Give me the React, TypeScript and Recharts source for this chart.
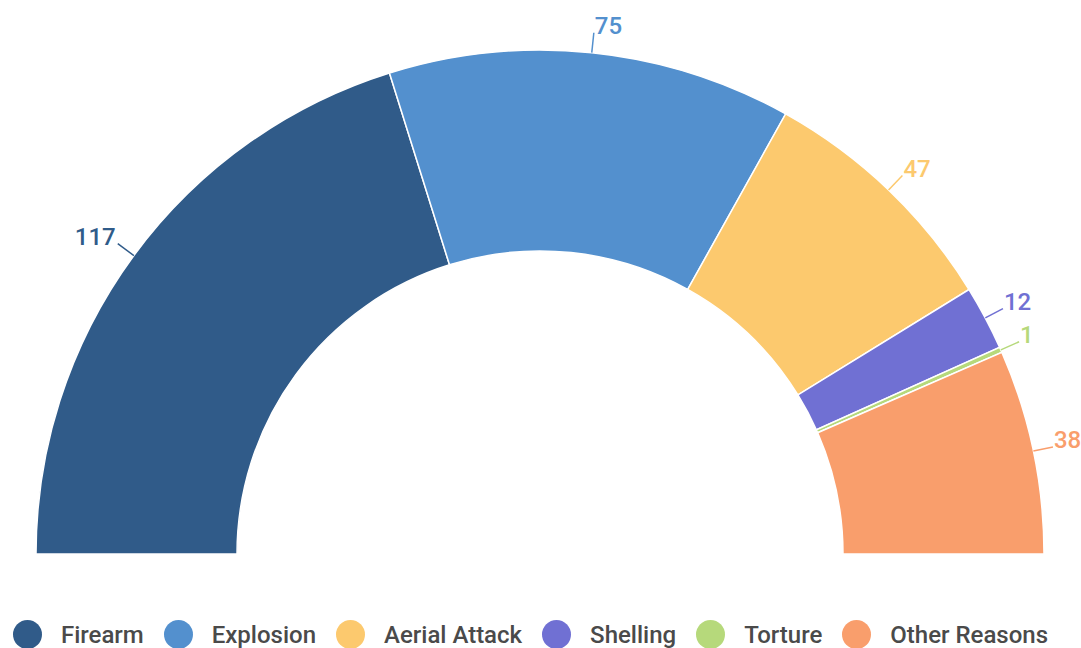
import { Cell, Legend, Pie, PieChart } from "recharts";

const categories = ["Firearm", "Explosion", "Aerial Attack", "Shelling", "Torture", "Other Reasons"];
const counts = [117, 75, 47, 12, 1, 38];
const colors = ["#305B89", "#5390CE", "#FCC96E", "#7070D3", "#B6D97B", "#F99E6C"];

const data = categories.map((name, i) => ({ name, value: counts[i] }));

const RADIAN = Math.PI / 180;

const renderLabel = (props: any) => {
    const { cx, cy, midAngle, outerRadius, value, index } = props;
    const color = colors[index];
    const cos = Math.cos(-midAngle * RADIAN);
    const sin = Math.sin(-midAngle * RADIAN);
    const x1 = cx + outerRadius * cos;
    const y1 = cy + outerRadius * sin;
    const x2 = cx + (outerRadius + 20) * cos;
    const y2 = cy + (outerRadius + 20) * sin;
    const anchor = cos >= 0 ? "start" : "end";
    return (
        <g>
            <path d={`M${x1},${y1}L${x2},${y2}`} stroke={color} strokeWidth={1.5} fill="none" />
            <text
                x={x2 + (cos >= 0 ? 1 : -2)}
                y={y2 + 1}
                textAnchor={anchor}
                fill={color}
                fontSize={24}
                fontWeight={500}
                fontFamily="Roboto"
            >
                {value}
            </text>
        </g>
    );
};

const renderLegend = () => (
    <div style={{ display: "flex", justifyContent: "center", alignItems: "center", fontFamily: "Roboto", paddingRight: 20 }}>
        {categories.map((name, i) => (
            <div key={name} style={{ display: "flex", alignItems: "center", marginRight: i < categories.length - 1 ? 20 : 0 }}>
                <span
                    style={{
                        width: 29,
                        height: 29,
                        borderRadius: "50%",
                        background: colors[i],
                        display: "inline-block",
                        marginRight: 19,
                    }}
                />
                <span style={{ fontSize: 24, fontWeight: 500, color: "#4a4a4a" }}>{name}</span>
            </div>
        ))}
    </div>
);

const App: React.FC = () => {
    return (
        <div style={{ position: "absolute", left: 0, top: 0 }}>
            <PieChart width={1081} height={648} margin={{ top: 0, right: 0, bottom: 0, left: 0 }}>
                <Pie
                    data={data}
                    dataKey="value"
                    nameKey="name"
                    cx={540}
                    cy={554}
                    startAngle={180}
                    endAngle={0}
                    innerRadius={303}
                    outerRadius={504}
                    stroke="#ffffff"
                    strokeWidth={1.5}
                    label={renderLabel}
                    labelLine={false}
                    isAnimationActive={false}
                >
                    {data.map((d, i) => (
                        <Cell key={d.name} fill={colors[i]} />
                    ))}
                </Pie>
                <Legend content={renderLegend} verticalAlign="bottom" wrapperStyle={{ bottom: -2, height: 30 }} />
            </PieChart>
        </div>
    );
};

export default App;
